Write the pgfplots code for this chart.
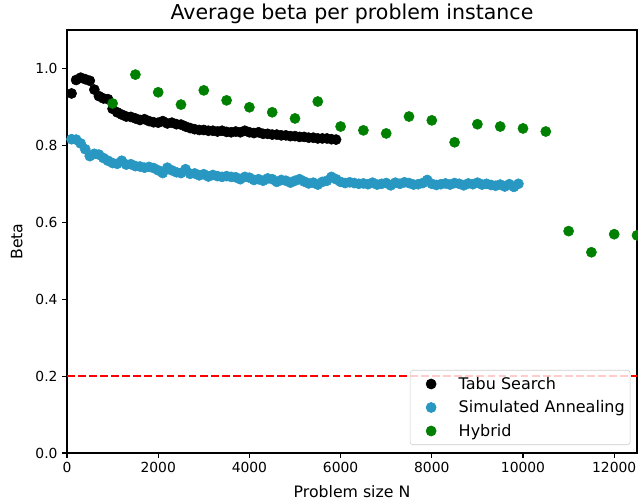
\documentclass[border=0pt]{standalone}
\usepackage{pgfplots}
\pgfplotsset{compat=1.18}
\usepackage{fontspec}
\setmainfont{DejaVu Sans}
\definecolor{tabu}{RGB}{0,0,0}
\definecolor{sa}{RGB}{40,152,194}
\definecolor{hyb}{RGB}{0,128,0}
\begin{document}
\begin{tikzpicture}
\begin{axis}[
    scale only axis,
    width=427.5pt, height=317.25pt,
    xmin=0, xmax=12500,
    ymin=0, ymax=1.1,
    xtick={0,2000,4000,6000,8000,10000,12000},
    ytick={0,0.2,0.4,0.6,0.8,1.0},
    scaled ticks=false,
    x tick label style={/pgf/number format/1000 sep={}},
    y tick label style={/pgf/number format/.cd, fixed, fixed zerofill, precision=1},
    /pgf/number format/assume math mode=true,
    tick align=outside,
    tick pos=left,
    major tick length=3.6pt,
    tick style={black, line width=0.8pt},
    axis line style={line width=0.8pt},
    tick label style={font=\fontsize{10.4pt}{12.5pt}\selectfont},
    label style={font=\fontsize{11.8pt}{14pt}\selectfont},
    xlabel={Problem size N},
    ylabel={Beta},
    title={Average beta per problem instance},
    every axis title shift=0pt,
    title style={font=\fontsize{15.4pt}{18pt}\selectfont, at={(axis description cs:0.5,1)}, anchor=center, yshift=12pt},
    x label style={at={(axis description cs:0.5,-0.092)}, anchor=center},
    y label style={at={(axis description cs:-0.088,0.5)}, anchor=center},
    legend style={at={(1,0)}, anchor=south east, xshift=-5pt, yshift=6pt,
        draw=black!20, rounded corners=2pt, fill=white, fill opacity=0.8, text opacity=1,
        row sep=3pt, inner xsep=2pt, inner ysep=3pt,
        font=\fontsize{12pt}{14pt}\selectfont},
    legend cell align=left,
    legend image code/.code={%
        \path (0pt,0pt) (32pt,0pt);
        \draw[#1, fill opacity=1, draw opacity=1] plot coordinates {(13.5pt,0pt)};},
]
\addplot[red, line width=1.5pt, dash pattern=on 5.8pt off 2.5pt, forget plot]
    coordinates {(0,0.2) (12500,0.2)};

\addplot[only marks, mark=*, mark size=3.8pt, color=tabu] coordinates {
(100,0.935) (200,0.970) (300,0.976) (400,0.972) (500,0.968) (600,0.945)
(700,0.928) (800,0.922) (900,0.920) (1000,0.895) (1100,0.886) (1200,0.880)
(1300,0.875) (1400,0.874) (1500,0.870) (1600,0.866) (1700,0.868) (1800,0.863)
(1900,0.860) (2000,0.859) (2100,0.863) (2200,0.857) (2300,0.859) (2400,0.855)
(2500,0.854) (2600,0.849) (2700,0.845) (2800,0.842) (2900,0.840) (3000,0.840)
(3100,0.838) (3200,0.838) (3300,0.836) (3400,0.838) (3500,0.835) (3600,0.834)
(3700,0.836) (3800,0.834) (3900,0.838) (4000,0.834) (4100,0.832) (4200,0.834)
(4300,0.830) (4400,0.830) (4500,0.828) (4600,0.828) (4700,0.826) (4800,0.826)
(4900,0.824) (5000,0.824) (5100,0.822) (5200,0.822) (5300,0.820) (5400,0.820)
(5500,0.818) (5600,0.818) (5700,0.818) (5800,0.816) (5900,0.815)
};
\addlegendentry{Tabu Search}

\addplot[only marks, mark=*, mark size=3.8pt, color=sa] coordinates {
(100,0.816) (200,0.815) (300,0.805) (400,0.790) (500,0.772) (600,0.778)
(700,0.776) (800,0.767) (900,0.760) (1000,0.754) (1100,0.752) (1200,0.760)
(1300,0.750) (1400,0.751) (1500,0.746) (1600,0.745) (1700,0.742) (1800,0.744)
(1900,0.741) (2000,0.735) (2100,0.728) (2200,0.742) (2300,0.735) (2400,0.730)
(2500,0.728) (2600,0.738) (2700,0.726) (2800,0.727) (2900,0.722) (3000,0.725)
(3100,0.719) (3200,0.723) (3300,0.720) (3400,0.718) (3500,0.720) (3600,0.718)
(3700,0.717) (3800,0.712) (3900,0.718) (4000,0.716) (4100,0.710) (4200,0.712)
(4300,0.708) (4400,0.714) (4500,0.712) (4600,0.705) (4700,0.710) (4800,0.708)
(4900,0.703) (5000,0.708) (5100,0.712) (5200,0.706) (5300,0.701) (5400,0.703)
(5500,0.698) (5600,0.705) (5700,0.708) (5800,0.718) (5900,0.712) (6000,0.705)
(6100,0.702) (6200,0.704) (6300,0.702) (6400,0.700) (6500,0.701) (6600,0.699)
(6700,0.703) (6800,0.698) (6900,0.700) (7000,0.702) (7100,0.696) (7200,0.703)
(7300,0.700) (7400,0.704) (7500,0.702) (7600,0.698) (7700,0.699) (7800,0.702)
(7900,0.710) (8000,0.700) (8100,0.697) (8200,0.699) (8300,0.701) (8400,0.698)
(8500,0.702) (8600,0.700) (8700,0.696) (8800,0.701) (8900,0.699) (9000,0.703)
(9100,0.698) (9200,0.700) (9300,0.697) (9400,0.695) (9500,0.698) (9600,0.693)
(9700,0.699) (9800,0.692) (9900,0.700)
};
\addlegendentry{Simulated Annealing}

\addplot[only marks, mark=*, mark size=3.8pt, color=hyb] coordinates {
(1000,0.909) (1500,0.984) (2000,0.938) (2500,0.906) (3000,0.943) (3500,0.917)
(4000,0.899) (4500,0.886) (5000,0.870) (5500,0.914) (6000,0.849) (6500,0.839)
(7000,0.831) (7500,0.875) (8000,0.865) (8500,0.808) (9000,0.855) (9500,0.849)
(10000,0.844) (10500,0.836) (11000,0.577) (11500,0.522) (12000,0.569) (12500,0.566)
};
\addlegendentry{Hybrid}
\end{axis}
\pgfresetboundingbox
\path (-50.25pt,-37.5pt) rectangle (428.25pt,339.75pt);
\end{tikzpicture}
\end{document}
